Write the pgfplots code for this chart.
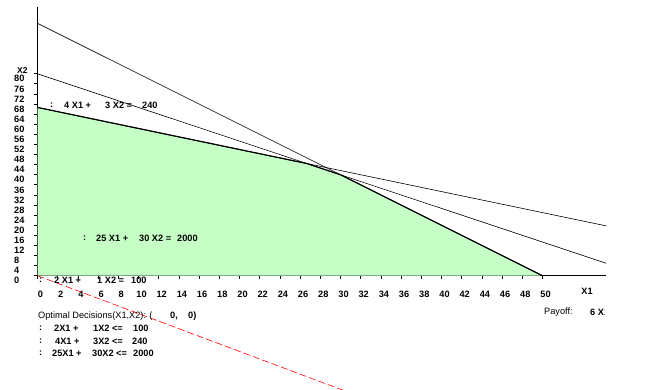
\documentclass[border=0pt]{standalone}
\usepackage{pgfplots}
\pgfplotsset{compat=1.18}
\usepackage{fontspec}
\setmainfont{Liberation Sans}
\definecolor{feas}{RGB}{198,255,198}
\newcommand{\fs}{\fontsize{9.2}{10}\selectfont}
\begin{document}
\begin{tikzpicture}[x=1pt,y=1pt]
\useasboundingbox (0,0) rectangle (652,-389);
\clip (0,0) rectangle (652,-389);
\begin{axis}[
  at={(37.5pt,-275.7pt)}, anchor=origin,
  x=10.1pt, y=2.524pt,
  xmin=0, xmax=56.3, ymin=0, ymax=106.6,
  axis lines=left, axis line style={-, line width=1.3pt},
  xtick={0,2,...,50}, ytick={0,4,...,80},
  tick align=outside, major tick length=3pt,
  tick style={black, line width=0.8pt},
  /pgf/number format/assume math mode=true,
  xticklabel style={font=\fs\bfseries, xshift=3pt, yshift=-9pt},
  yticklabel style={font=\fs\bfseries, anchor=west, inner sep=0pt, xshift=-20.5pt, yshift=-5pt},
  clip=false,
]
\addplot[fill=feas, draw=none] coordinates {(0,0) (0,66.667) (26.667,44.444) (30,40) (50,0)} -- cycle;
\addplot[black, line width=0.6pt] coordinates {(0,100) (50,0)};
\addplot[black, line width=0.6pt] coordinates {(0,80) (56.3,4.933)};
\addplot[black, line width=0.6pt] coordinates {(0,66.667) (56.3,19.75)};
\addplot[black, line width=1.2pt] coordinates {(0,66.667) (26.667,44.444) (30,40) (50,0)};
\addplot[red, line width=0.6pt, dash pattern=on 7pt off 3pt] coordinates {(0,0) (40,-60)};
\end{axis}
% axis titles
\node[anchor=west, inner sep=0pt, font=\fontsize{8.5}{9}\selectfont\bfseries] at (17,-71) {X2};
\node[inner sep=0pt, font=\fs\bfseries] at (587,-291) {X1};
% in-plot labels
\begin{scope}[every node/.style={anchor=west, inner sep=0pt, font=\fs\bfseries}]
\node at (50,-105) {:};
\node at (64,-105) {4 X1 +};
\node at (105,-105) {3 X2 =};
\node at (142,-105) {240};
\node at (83,-238) {:};
\node at (96,-238) {25 X1 +};
\node at (139,-238) {30 X2 =};
\node at (177,-238) {2000};
\node at (39,-280) {:};
\node at (54,-280) {2 X1 +};
\node at (97,-280) {1 X2 =};
\node at (131,-280) {100};
% bottom text
\node[font=\fs] at (38,-316) {Optimal Decisions(X1,X2): (};
\node at (170,-316) {0,};
\node at (188,-316) {0)};
\node at (39,-328) {:};
\node at (54,-328) {2X1 +};
\node at (93,-328) {1X2 <=};
\node at (133,-328) {100};
\node at (39,-341) {:};
\node at (55,-341) {4X1 +};
\node at (93,-341) {3X2 <=};
\node at (132,-341) {240};
\node at (39,-353) {:};
\node at (52,-353) {25X1 +};
\node at (92,-353) {30X2 <=};
\node at (133,-353) {2000};
\node[font=\fs] at (544,-312) {Payoff:};
\end{scope}
\begin{scope}
\clip (580,-300) rectangle (604.5,-325);
\node[anchor=west, inner sep=0pt, font=\fs\bfseries] at (590,-312) {6 X1};
\end{scope}
\end{tikzpicture}
\end{document}
